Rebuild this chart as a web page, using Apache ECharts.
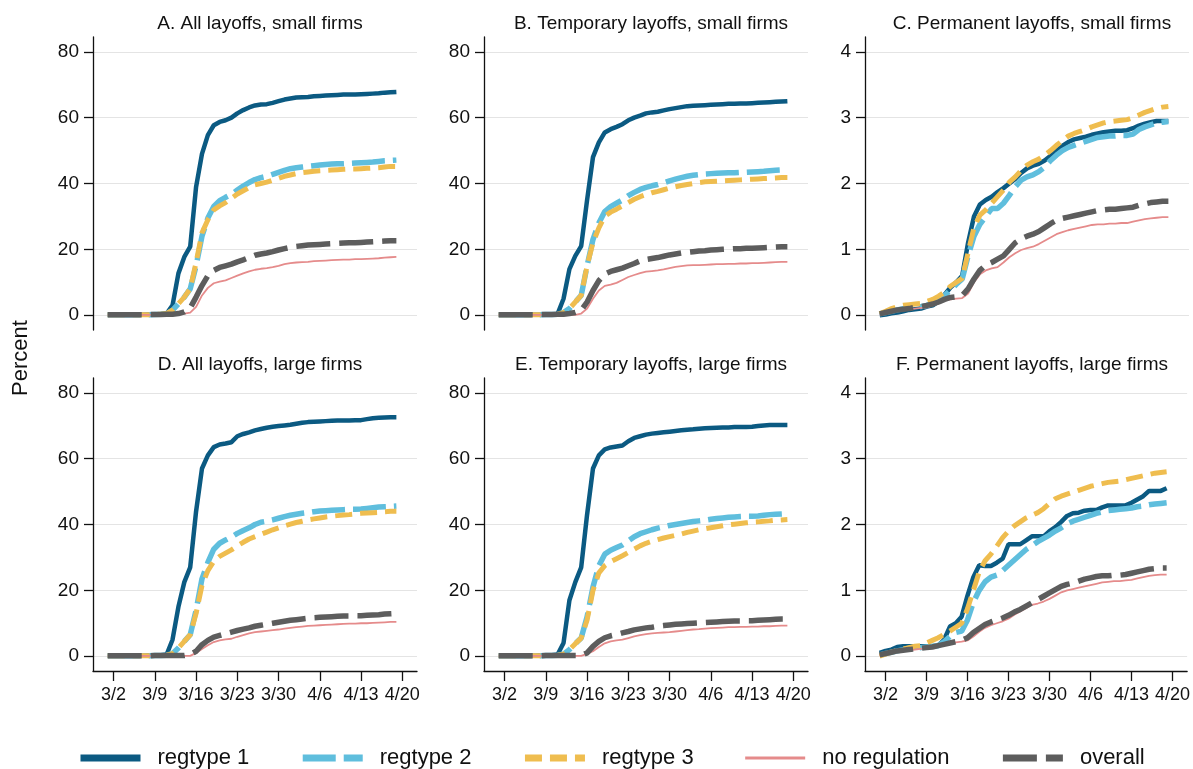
<!DOCTYPE html>
<html>
<head>
<meta charset="utf-8">
<title>Layoffs by regulation type</title>
<script src="https://cdn.jsdelivr.net/npm/echarts@6.0.0/dist/echarts.min.js"></script>
<style>
  html, body { margin: 0; padding: 0; background: #fff; }
  #chart { width: 1193px; height: 769px; }
</style>
</head>
<body>
<div id="chart"></div>
<script>
// day index: 0 = 3/2, the series run daily from 3/1 (-1) to 4/19 (48)
const days = []
for (let d = -1; d <= 48; d++) days.push(d)

const xTickDays = [0, 7, 14, 21, 28, 35, 42, 49]
const xTickLabels = ['3/2', '3/9', '3/16', '3/23', '3/30', '4/6', '4/13', '4/20']
const yTicksAll = [0, 20, 40, 60, 80]
const yTicksPerm = [0, 1, 2, 3, 4]

const seriesNames = ['regtype 1', 'regtype 2', 'regtype 3', 'no regulation', 'overall']

// A. All layoffs, small firms
const aReg1 = [0.1, 0.1, 0.1, 0.1, 0.1, 0.1, 0.1, 0.2, 0.2, 0.3, 0.5, 3, 12.7, 17.7, 20.8, 39, 49, 54.7, 57.7, 58.7, 59.2, 60, 61.3, 62.3, 63.1, 63.7, 64, 64.1, 64.5, 65, 65.5, 65.8, 66.1, 66.2, 66.3, 66.5, 66.6, 66.7, 66.8, 66.9, 67, 67, 67, 67.1, 67.2, 67.3, 67.4, 67.6, 67.7, 67.8]
const aReg2 = [0.1, 0.1, 0.1, 0.1, 0.1, 0.1, 0.1, 0.1, 0.2, 0.3, 0.5, 1.5, 3.5, 5.5, 8, 15, 24, 29.5, 33, 34.8, 35.8, 36.7, 38, 39.2, 40.3, 41.2, 41.8, 42.2, 42.8, 43.4, 44, 44.5, 44.8, 45, 45.2, 45.4, 45.6, 45.8, 45.9, 46, 46, 46.1, 46.2, 46.3, 46.4, 46.5, 46.7, 46.9, 47, 47.1]
const aReg3 = [0.1, 0.1, 0.1, 0.1, 0.1, 0.1, 0.1, 0.1, 0.2, 0.3, 0.5, 1.5, 3.5, 5.5, 8, 16, 25, 29, 32, 33.2, 34.2, 35.5, 36.8, 37.8, 38.8, 39.6, 40, 40.4, 41, 41.6, 42.2, 42.6, 43, 43.3, 43.5, 43.7, 43.9, 44, 44.1, 44.2, 44.3, 44.4, 44.4, 44.5, 44.6, 44.7, 44.8, 45, 45.2, 45.2]
const aNoreg = [0.1, 0.1, 0.1, 0.1, 0.1, 0.1, 0.1, 0.1, 0.1, 0.1, 0.1, 0.1, 0.1, 0.5, 0.8, 2.5, 6, 8.3, 9.7, 10.2, 10.6, 11.3, 12, 12.7, 13.3, 13.8, 14.1, 14.3, 14.6, 15, 15.5, 15.8, 16, 16.1, 16.2, 16.4, 16.5, 16.6, 16.7, 16.8, 16.9, 16.9, 17, 17, 17.1, 17.2, 17.3, 17.5, 17.6, 17.7]
const aOverall = [0.1, 0.1, 0.1, 0.1, 0.1, 0.1, 0.1, 0.2, 0.2, 0.2, 0.3, 0.3, 0.5, 1, 2.2, 5.5, 9, 12, 13.6, 14.5, 15, 15.5, 16.2, 16.8, 17.5, 18.2, 18.6, 18.9, 19.3, 19.8, 20.2, 20.6, 20.9, 21.1, 21.3, 21.4, 21.5, 21.6, 21.7, 21.8, 21.9, 22, 22, 22.1, 22.2, 22.3, 22.4, 22.5, 22.6, 22.6]

// B. Temporary layoffs, small firms
const bReg1 = [0.1, 0.1, 0.1, 0.1, 0.1, 0.1, 0.1, 0.1, 0.2, 0.2, 0.4, 5, 14, 18, 21, 35, 48, 52.5, 55.5, 56.5, 57.2, 58, 59.2, 60, 60.6, 61.3, 61.6, 61.8, 62.2, 62.6, 62.9, 63.2, 63.5, 63.6, 63.7, 63.8, 63.9, 64, 64.1, 64.2, 64.2, 64.3, 64.3, 64.4, 64.5, 64.6, 64.7, 64.8, 64.9, 65]
const bReg2 = [0.1, 0.1, 0.1, 0.1, 0.1, 0.1, 0.1, 0.1, 0.2, 0.2, 0.3, 0.8, 2, 4, 6, 15, 23, 28, 31.5, 33, 34, 35, 36.3, 37.3, 38.2, 38.8, 39.3, 39.7, 40.2, 40.8, 41.3, 41.8, 42.2, 42.5, 42.7, 42.9, 43, 43.1, 43.2, 43.3, 43.3, 43.4, 43.4, 43.5, 43.6, 43.7, 43.9, 44, 44.1, 44.2]
const bReg3 = [0.1, 0.1, 0.1, 0.1, 0.1, 0.1, 0.1, 0.1, 0.2, 0.2, 0.3, 0.8, 2, 4, 6, 15, 22, 26.5, 30, 31.3, 32.2, 33.2, 34.2, 35.2, 36, 36.6, 37.2, 37.6, 38.1, 38.6, 39, 39.4, 39.7, 40, 40.3, 40.5, 40.6, 40.7, 40.8, 40.9, 41, 41.1, 41.2, 41.3, 41.4, 41.5, 41.6, 41.7, 41.8, 41.8]
const bNoreg = [0.1, 0.1, 0.1, 0.1, 0.1, 0.1, 0.1, 0.1, 0.1, 0.1, 0.1, 0.1, 0.1, 0.1, 0.5, 2, 5, 7.5, 8.9, 9.3, 9.8, 10.7, 11.6, 12.2, 12.8, 13.2, 13.4, 13.6, 13.9, 14.3, 14.7, 14.9, 15.1, 15.2, 15.2, 15.3, 15.4, 15.5, 15.5, 15.6, 15.6, 15.7, 15.7, 15.8, 15.8, 15.9, 16, 16.1, 16.2, 16.2]
const bOverall = [0.1, 0.1, 0.1, 0.1, 0.1, 0.1, 0.1, 0.2, 0.2, 0.2, 0.3, 0.3, 0.5, 0.8, 1.5, 4, 7.5, 10.5, 12.5, 13.3, 13.8, 14.3, 15, 15.7, 16.5, 16.9, 17.2, 17.5, 17.9, 18.3, 18.6, 18.9, 19.1, 19.3, 19.5, 19.6, 19.8, 19.9, 20, 20.1, 20.2, 20.2, 20.3, 20.3, 20.4, 20.5, 20.6, 20.7, 20.8, 20.8]

// C. Permanent layoffs, small firms
const cReg1 = [0, 0.01, 0.03, 0.04, 0.06, 0.08, 0.09, 0.1, 0.13, 0.15, 0.21, 0.31, 0.42, 0.5, 0.6, 1.1, 1.5, 1.68, 1.75, 1.8, 1.87, 1.93, 2.0, 2.07, 2.16, 2.23, 2.27, 2.3, 2.35, 2.42, 2.5, 2.57, 2.63, 2.67, 2.69, 2.71, 2.74, 2.76, 2.78, 2.79, 2.8, 2.8, 2.81, 2.84, 2.88, 2.91, 2.93, 2.95, 2.95, 2.95]
const cReg2 = [0.02, 0.04, 0.06, 0.08, 0.1, 0.11, 0.12, 0.13, 0.15, 0.18, 0.22, 0.3, 0.38, 0.47, 0.55, 0.9, 1.2, 1.38, 1.5, 1.62, 1.62, 1.7, 1.82, 1.95, 2.05, 2.1, 2.13, 2.18, 2.25, 2.35, 2.43, 2.5, 2.55, 2.58, 2.61, 2.64, 2.67, 2.7, 2.71, 2.72, 2.72, 2.73, 2.73, 2.75, 2.82, 2.86, 2.89, 2.92, 2.93, 2.94]
const cReg3 = [0.02, 0.06, 0.1, 0.13, 0.15, 0.16, 0.17, 0.18, 0.21, 0.24, 0.29, 0.35, 0.44, 0.5, 0.56, 0.95, 1.33, 1.52, 1.6, 1.7, 1.8, 1.9, 2.02, 2.1, 2.2, 2.28, 2.33, 2.37, 2.43, 2.5, 2.58, 2.65, 2.72, 2.76, 2.79, 2.82, 2.86, 2.89, 2.92, 2.94, 2.95, 2.96, 2.97, 3.0, 3.04, 3.08, 3.11, 3.14, 3.16, 3.17]
const cNoreg = [0.01, 0.03, 0.05, 0.07, 0.08, 0.09, 0.1, 0.11, 0.12, 0.15, 0.18, 0.22, 0.24, 0.25, 0.26, 0.33, 0.5, 0.62, 0.68, 0.71, 0.73, 0.8, 0.88, 0.94, 0.99, 1.02, 1.04, 1.08, 1.13, 1.18, 1.23, 1.26, 1.29, 1.31, 1.33, 1.35, 1.37, 1.38, 1.38, 1.39, 1.39, 1.4, 1.4, 1.42, 1.44, 1.46, 1.47, 1.48, 1.49, 1.49]
const cOverall = [0.02, 0.04, 0.06, 0.08, 0.09, 0.1, 0.12, 0.13, 0.15, 0.17, 0.2, 0.24, 0.27, 0.28, 0.3, 0.4, 0.55, 0.68, 0.76, 0.8, 0.85, 0.9, 1.0, 1.1, 1.16, 1.2, 1.23, 1.27, 1.33, 1.39, 1.44, 1.47, 1.49, 1.51, 1.53, 1.55, 1.57, 1.59, 1.6, 1.61, 1.61, 1.62, 1.63, 1.64, 1.67, 1.69, 1.71, 1.72, 1.73, 1.73]

// D. All layoffs, large firms
const dReg1 = [0.1, 0.1, 0.1, 0.1, 0.1, 0.1, 0.1, 0.2, 0.2, 0.3, 0.5, 5, 15, 22.5, 27, 44, 57, 61, 63.5, 64.3, 64.6, 65, 66.8, 67.5, 68, 68.6, 69, 69.4, 69.7, 69.9, 70.1, 70.3, 70.6, 70.9, 71.1, 71.2, 71.3, 71.4, 71.5, 71.6, 71.6, 71.6, 71.7, 71.7, 72, 72.3, 72.4, 72.5, 72.6, 72.6]
const dReg2 = [0.1, 0.1, 0.1, 0.1, 0.1, 0.1, 0.1, 0.1, 0.2, 0.2, 0.3, 0.8, 2.5, 4.5, 6.5, 14, 23.5, 28.5, 32.5, 34.3, 35.3, 36.2, 37.3, 38.2, 39, 40, 40.7, 41, 41.4, 41.9, 42.4, 42.8, 43.1, 43.4, 43.6, 43.9, 44.1, 44.2, 44.3, 44.4, 44.5, 44.6, 44.6, 44.7, 44.9, 45.1, 45.3, 45.4, 45.5, 45.6]
const dReg3 = [0.1, 0.1, 0.1, 0.1, 0.1, 0.1, 0.1, 0.1, 0.2, 0.2, 0.3, 0.8, 2.5, 4.5, 6.5, 13, 21.5, 26, 28.8, 30.3, 31.3, 32.3, 33.5, 34.6, 35.6, 36.3, 37, 37.7, 38.4, 39, 39.6, 40.1, 40.6, 41, 41.4, 41.7, 42, 42.3, 42.5, 42.7, 42.9, 43, 43.2, 43.4, 43.5, 43.6, 43.7, 43.9, 44, 44]
const dNoreg = [0.1, 0.1, 0.1, 0.1, 0.1, 0.1, 0.1, 0.1, 0.1, 0.1, 0.1, 0.1, 0.1, 0.1, 0.1, 1, 2.2, 3.3, 4.3, 4.8, 5.1, 5.3, 5.9, 6.4, 6.9, 7.3, 7.5, 7.7, 7.9, 8.1, 8.4, 8.6, 8.8, 9, 9.2, 9.3, 9.4, 9.5, 9.6, 9.7, 9.8, 9.9, 9.9, 10, 10, 10.1, 10.2, 10.3, 10.4, 10.4]
const dOverall = [0.1, 0.1, 0.1, 0.1, 0.1, 0.1, 0.1, 0.1, 0.2, 0.2, 0.2, 0.2, 0.2, 0.2, 0.5, 1.5, 3.5, 4.8, 5.8, 6.3, 6.8, 7.3, 7.8, 8.2, 8.6, 9.1, 9.4, 9.7, 10, 10.3, 10.6, 10.9, 11.1, 11.3, 11.5, 11.7, 11.8, 11.9, 12, 12.1, 12.2, 12.2, 12.3, 12.3, 12.4, 12.5, 12.6, 12.8, 12.9, 13]

// E. Temporary layoffs, large firms
const eReg1 = [0.1, 0.1, 0.1, 0.1, 0.1, 0.1, 0.1, 0.2, 0.2, 0.3, 0.5, 4, 17, 22.5, 27, 43, 57, 61, 62.8, 63.4, 63.7, 64, 65.3, 66.3, 66.8, 67.3, 67.6, 67.8, 68, 68.2, 68.4, 68.6, 68.8, 68.9, 69.1, 69.2, 69.3, 69.4, 69.5, 69.5, 69.6, 69.6, 69.6, 69.7, 69.9, 70.1, 70.2, 70.2, 70.2, 70.2]
const eReg2 = [0.1, 0.1, 0.1, 0.1, 0.1, 0.1, 0.1, 0.1, 0.2, 0.2, 0.3, 0.6, 2, 3.8, 5.5, 12, 21, 27.5, 31, 32.2, 33, 33.8, 35, 36.3, 37.2, 37.8, 38.4, 38.9, 39.3, 39.7, 40, 40.3, 40.6, 40.9, 41.1, 41.3, 41.6, 41.8, 42, 42.2, 42.3, 42.4, 42.5, 42.5, 42.6, 42.8, 43, 43.1, 43.2, 43.3]
const eReg3 = [0.1, 0.1, 0.1, 0.1, 0.1, 0.1, 0.1, 0.1, 0.2, 0.2, 0.3, 0.6, 2, 3.8, 5.5, 11, 20, 25.3, 27.5, 28.7, 29.6, 30.5, 31.5, 32.5, 33.5, 34.3, 34.9, 35.4, 35.9, 36.3, 36.7, 37.1, 37.6, 38, 38.4, 38.7, 39, 39.3, 39.6, 39.9, 40.1, 40.3, 40.5, 40.7, 40.8, 41, 41.1, 41.3, 41.4, 41.5]
const eNoreg = [0.1, 0.1, 0.1, 0.1, 0.1, 0.1, 0.1, 0.1, 0.1, 0.1, 0.1, 0.1, 0.1, 0.1, 0.1, 0.7, 1.5, 2.8, 3.9, 4.5, 4.8, 5, 5.5, 6, 6.4, 6.7, 6.9, 7.1, 7.2, 7.3, 7.5, 7.7, 7.9, 8.1, 8.2, 8.4, 8.5, 8.6, 8.7, 8.8, 8.8, 8.9, 8.9, 9, 9, 9.1, 9.1, 9.2, 9.3, 9.3]
const eOverall = [0.1, 0.1, 0.1, 0.1, 0.1, 0.1, 0.1, 0.1, 0.2, 0.2, 0.2, 0.2, 0.2, 0.2, 0.2, 1, 3, 4.5, 5.6, 6.2, 6.6, 7.1, 7.5, 8, 8.3, 8.6, 8.8, 9.1, 9.3, 9.5, 9.7, 9.8, 9.9, 10, 10.1, 10.2, 10.3, 10.4, 10.5, 10.6, 10.7, 10.7, 10.8, 10.8, 10.9, 11, 11.1, 11.2, 11.3, 11.3]

// F. Permanent layoffs, large firms
const fReg1 = [0.05, 0.08, 0.1, 0.14, 0.15, 0.15, 0.15, 0.15, 0.15, 0.15, 0.16, 0.25, 0.45, 0.5, 0.6, 0.92, 1.2, 1.38, 1.37, 1.37, 1.42, 1.48, 1.7, 1.7, 1.7, 1.76, 1.82, 1.82, 1.82, 1.9, 1.96, 2.04, 2.13, 2.17, 2.18, 2.21, 2.22, 2.22, 2.26, 2.29, 2.29, 2.29, 2.29, 2.33, 2.38, 2.43, 2.51, 2.51, 2.51, 2.55]
const fReg2 = [0.02, 0.04, 0.06, 0.08, 0.1, 0.12, 0.13, 0.13, 0.14, 0.15, 0.16, 0.22, 0.3, 0.36, 0.38, 0.55, 0.82, 1.0, 1.13, 1.2, 1.23, 1.3, 1.38, 1.46, 1.54, 1.62, 1.68, 1.74, 1.79, 1.84, 1.9, 1.95, 2.01, 2.05, 2.08, 2.11, 2.14, 2.17, 2.19, 2.21, 2.22, 2.23, 2.24, 2.25, 2.27, 2.28, 2.3, 2.31, 2.32, 2.33]
const fReg3 = [0, 0.03, 0.06, 0.09, 0.11, 0.13, 0.15, 0.16, 0.2, 0.24, 0.28, 0.33, 0.38, 0.44, 0.5, 0.72, 1.0, 1.28, 1.45, 1.55, 1.67, 1.8, 1.9, 1.98, 2.04, 2.1, 2.14, 2.18, 2.24, 2.32, 2.39, 2.43, 2.46, 2.49, 2.52, 2.55, 2.58, 2.6, 2.62, 2.64, 2.65, 2.66, 2.68, 2.7, 2.72, 2.74, 2.76, 2.78, 2.79, 2.8]
const fNoreg = [0.01, 0.03, 0.05, 0.07, 0.08, 0.09, 0.1, 0.11, 0.12, 0.13, 0.15, 0.17, 0.19, 0.21, 0.22, 0.24, 0.3, 0.37, 0.43, 0.47, 0.5, 0.53, 0.57, 0.63, 0.68, 0.73, 0.78, 0.8, 0.83, 0.87, 0.92, 0.97, 1.0, 1.02, 1.04, 1.06, 1.08, 1.1, 1.12, 1.13, 1.14, 1.14, 1.15, 1.16, 1.18, 1.2, 1.22, 1.23, 1.24, 1.24]
const fOverall = [0.02, 0.04, 0.06, 0.08, 0.09, 0.1, 0.11, 0.12, 0.13, 0.14, 0.16, 0.18, 0.2, 0.22, 0.24, 0.28, 0.36, 0.42, 0.48, 0.52, 0.55, 0.58, 0.62, 0.67, 0.71, 0.76, 0.81, 0.86, 0.91, 0.96, 1.01, 1.06, 1.09, 1.11, 1.14, 1.17, 1.19, 1.21, 1.22, 1.22, 1.23, 1.23, 1.24, 1.26, 1.28, 1.3, 1.32, 1.33, 1.34, 1.34]

const panels = [
  { title: 'A. All layoffs, small firms', ticks: yTicksAll, lines: [aReg1, aReg2, aReg3, aNoreg, aOverall] },
  { title: 'B. Temporary layoffs, small firms', ticks: yTicksAll, lines: [bReg1, bReg2, bReg3, bNoreg, bOverall] },
  { title: 'C. Permanent layoffs, small firms', ticks: yTicksPerm, lines: [cReg1, cReg2, cReg3, cNoreg, cOverall] },
  { title: 'D. All layoffs, large firms', ticks: yTicksAll, lines: [dReg1, dReg2, dReg3, dNoreg, dOverall] },
  { title: 'E. Temporary layoffs, large firms', ticks: yTicksAll, lines: [eReg1, eReg2, eReg3, eNoreg, eOverall] },
  { title: 'F. Permanent layoffs, large firms', ticks: yTicksPerm, lines: [fReg1, fReg2, fReg3, fNoreg, fOverall] }
]

const font = 'Liberation Sans, Arial, Helvetica, sans-serif'
const ink = '#111'
const lineStyles = [
  { color: '#0b5a82', width: 4.5, type: 'solid' },
  { color: '#5fbedd', width: 5.5, type: [33, 8] },
  { color: '#efbd4f', width: 5, type: [17, 8] },
  { color: '#e58b8b', width: 1.8, type: 'solid' },
  { color: '#5d5d5d', width: 5.5, type: [34, 9] }
]

const colLeft = [93, 484, 865]
const rowTop = [37, 378]
const plotW = 324
const plotH = 293

const grids = []
const xAxes = []
const yAxes = []
const titles = []
const series = []

panels.forEach((p, i) => {
  const row = Math.floor(i / 3)
  const col = i % 3
  const top = p.ticks[p.ticks.length - 1]
  const pad = top * 0.05625 // range padding like the original

  grids.push({ left: colLeft[col], top: rowTop[row], width: plotW, height: plotH })

  titles.push({
    text: p.title,
    left: colLeft[col] + plotW / 2,
    top: rowTop[row] - 28,
    textAlign: 'center',
    textStyle: { fontFamily: font, fontSize: 19, fontWeight: 'normal', color: ink }
  })

  xAxes.push({
    gridIndex: i,
    type: 'value',
    min: -3.5,
    max: 51.5,
    axisLine: { show: row === 1, onZero: false, lineStyle: { color: ink, width: 1.3 } },
    axisTick: { show: row === 1, length: 10, customValues: xTickDays, lineStyle: { color: ink, width: 1.3 } },
    axisLabel: {
      show: row === 1,
      customValues: xTickDays,
      margin: 15,
      fontFamily: font,
      fontSize: 18,
      color: ink,
      formatter: v => xTickLabels[xTickDays.indexOf(v)]
    },
    splitLine: { show: false }
  })

  yAxes.push({
    gridIndex: i,
    type: 'value',
    min: -pad,
    max: top + pad,
    axisLine: { show: true, onZero: false, lineStyle: { color: ink, width: 1.3 } },
    axisTick: { show: true, length: 9, customValues: p.ticks, lineStyle: { color: ink, width: 1.3 } },
    axisLabel: { customValues: p.ticks, margin: 14, fontFamily: font, fontSize: 19, color: ink },
    splitLine: { show: true, lineStyle: { color: '#e4e4e4', width: 1 } }
  })

  p.lines.forEach((vals, k) => {
    series.push({
      name: seriesNames[k],
      type: 'line',
      xAxisIndex: i,
      yAxisIndex: i,
      symbol: 'none',
      data: days.map((d, j) => [d, vals[j]]),
      lineStyle: lineStyles[k],
      itemStyle: { color: lineStyles[k].color },
      z: 2 + k
    })
  })
})

const chart = echarts.init(document.getElementById('chart'))
chart.setOption({
  animation: false,
  backgroundColor: '#fff',
  title: titles,
  grid: grids,
  xAxis: xAxes,
  yAxis: yAxes,
  legend: {
    data: seriesNames.map((n, k) => ({ name: n, lineStyle: { width: k === 3 ? 3 : 7 } })),
    left: 72,
    top: 742,
    itemWidth: 60,
    itemHeight: 14,
    itemGap: 50,
    itemStyle: { opacity: 0 },
    textStyle: { fontFamily: font, fontSize: 22, color: ink, padding: [0, 0, 0, 12] }
  },
  graphic: [{
    type: 'text',
    x: 21,
    y: 358,
    rotation: Math.PI / 2,
    style: { text: 'Percent', fontFamily: font, fontSize: 22, fill: ink, align: 'center', verticalAlign: 'middle' }
  }],
  series: series
})
window.addEventListener('resize', () => chart.resize())
</script>
</body>
</html>
